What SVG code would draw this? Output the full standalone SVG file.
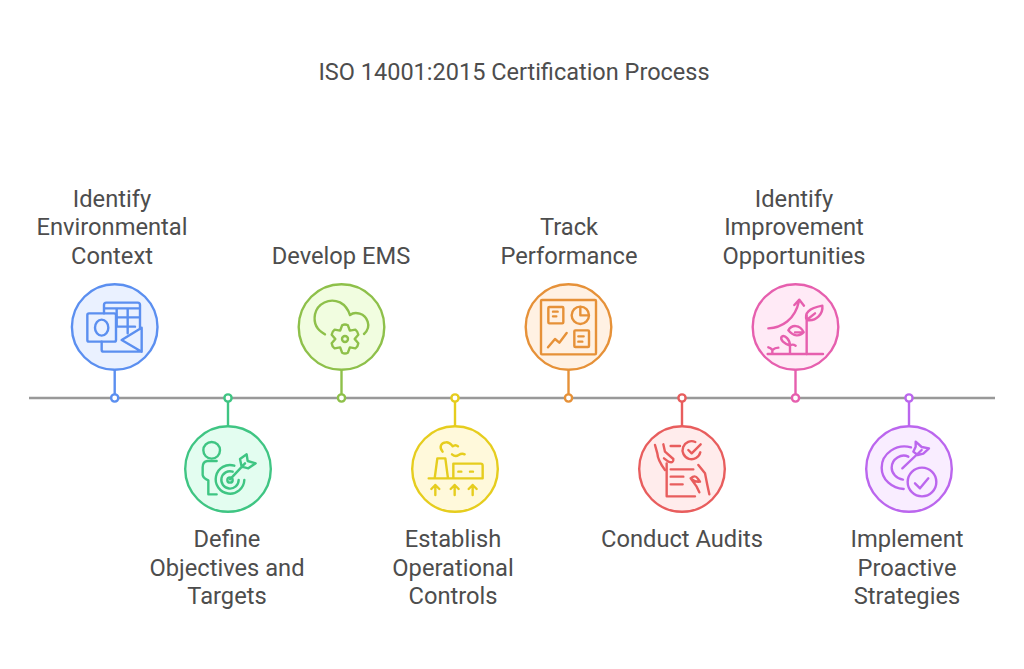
<svg xmlns="http://www.w3.org/2000/svg" width="1024" height="669" viewBox="0 0 1024 669">
<style>
text{font-family:Roboto,"Liberation Sans",sans-serif;font-size:23.7px;fill:#4d4d4d;text-anchor:middle}
.title{font-size:23.5px}
.c{stroke-width:2.4}
.i{fill:none;stroke-width:7.2;stroke-linecap:round;stroke-linejoin:round}
.d{fill:#fff;stroke-width:2.4}
.s{stroke-width:2.4}
.blue{stroke:#5b8ff0}.green{stroke:#3fc583}.lime{stroke:#8ec04a}.yellow{stroke:#e6cd1e}.orange{stroke:#e69138}.red{stroke:#e85d5d}.pink{stroke:#e65fae}.purple{stroke:#bb66ee}
</style>
<rect width="1024" height="669" fill="#fff"/>
<text class="title" x="514" y="80">ISO 14001:2015 Certification Process</text>
<g id="connectors">
<line x1="29" y1="398" x2="995" y2="398" stroke="#999" stroke-width="2.6"/>
<line class="s blue" x1="114.700" y1="370" x2="114.700" y2="398"/>
<line class="s green" x1="228" y1="398" x2="228" y2="426"/>
<line class="s lime" x1="341.500" y1="370" x2="341.500" y2="398"/>
<line class="s yellow" x1="455" y1="398" x2="455" y2="426"/>
<line class="s orange" x1="568.500" y1="370" x2="568.500" y2="398"/>
<line class="s red" x1="682" y1="398" x2="682" y2="426"/>
<line class="s pink" x1="795.500" y1="370" x2="795.500" y2="398"/>
<line class="s purple" x1="909" y1="398" x2="909" y2="426"/>
<circle class="d blue" cx="114.700" cy="398" r="3.600"/>
<circle class="d green" cx="228" cy="398" r="3.600"/>
<circle class="d lime" cx="341.500" cy="398" r="3.600"/>
<circle class="d yellow" cx="455" cy="398" r="3.600"/>
<circle class="d orange" cx="568.500" cy="398" r="3.600"/>
<circle class="d red" cx="682" cy="398" r="3.600"/>
<circle class="d pink" cx="795.500" cy="398" r="3.600"/>
<circle class="d purple" cx="909" cy="398" r="3.600"/>
</g>
<g id="n1">
<circle class="c blue" cx="114.700" cy="327" r="42.800" fill="#eaf1ff"/>
<g class="i blue" transform="translate(60 275) scale(.33333)">
<path d="M132 115V90q0-7 7-7h94q7 0 7 7v68M132 100h108M170 100v55M203 100v75M170 127h70M170 155h55"/>
<rect x="82" y="115" width="86" height="85" rx="5"/>
<ellipse cx="125" cy="158" rx="20" ry="24"/>
<path d="M125 200v24q0 6 6 6h114v-72l-60 37 60 35"/>
</g>
<text x="112" y="206.500">Identify</text><text x="112" y="235.200">Environmental</text><text x="112" y="263.500">Context</text>
</g>
<g id="n2">
<circle class="c green" cx="228" cy="469" r="42.800" fill="#e3fdf0"/>
<g class="i green" transform="translate(60 275) scale(.33333)">
<circle cx="455" cy="526" r="25"/>
<path d="M470 558H442Q428 560 428 577V600Q430 610 445 616V658H470"/>
<path d="M523 572A43 43 0 1 0 553 615"/>
<path d="M518 590A26 26 0 1 0 536 615"/>
<circle cx="510" cy="615" r="8"/>
<path d="M510 613 555 565M540 552 560 538 563 558 587 565 565 580 545 575Z"/>
</g>
<text x="227" y="546.500">Define</text><text x="227" y="575.500">Objectives and</text><text x="227" y="603.500">Targets</text>
</g>
<g id="n3">
<circle class="c lime" cx="341.500" cy="327" r="42.800" fill="#f1fde0"/>
<g class="i lime" transform="translate(290 275) scale(.33333)">
<path d="M105 178C80 165 70 145 75 118 82 85 118 68 150 82 165 90 175 105 180 120 195 108 225 115 233 140 238 155 232 168 222 177"/>
<path d="M156.300 150.900Q165 146 173.700 150.900L179.500 166.900 196.200 163.900Q204 170 204.900 179L194 192 204.900 205Q204 214 196.200 220.100L179.500 217.100 173.700 233.100Q165 238 156.300 233.100L150.500 217.100 133.800 220.100Q126 214 125.100 205L136 192 125.100 179Q126 170 133.800 163.900L150.500 166.900Z"/>
<circle cx="165" cy="192" r="9"/>
</g>
<text x="341" y="263.500">Develop EMS</text>
</g>
<g id="n4">
<circle class="c yellow" cx="455" cy="469" r="42.800" fill="#fff9db"/>
<g class="i yellow" transform="translate(290 275) scale(.33333)">
<path d="M458 530c-12-14-5-27 10-28 12-1 16 8 20 12 5-4 12-4 16 0M486 538c8 7 14 6 20 2s12-5 18-2"/>
<path d="M416 610H578V572q0-6-6-6H490M434 610 442 550H466L474 610M490 566V610M505 590h9M540 590h9"/>
<path d="M436 660V630M424 642 436 630 448 642M494 660V630M482 642 494 630 506 642M548 660V630M536 642 548 630 560 642"/>
</g>
<text x="453" y="546.500">Establish</text><text x="453" y="575.500">Operational</text><text x="453" y="603.500">Controls</text>
</g>
<g id="n5">
<circle class="c orange" cx="568.500" cy="327" r="42.800" fill="#fff1e3"/>
<g class="i orange" transform="translate(515 275) scale(.33333)">
<rect x="78" y="75" width="165" height="163" rx="3"/>
<rect x="100" y="96" width="45" height="49" rx="3"/>
<path d="M114 110h14M114 124h10"/>
<circle cx="196" cy="121" r="26"/>
<path d="M196 96v25h25"/>
<path d="M99 217 120 192 133 203 155 174"/>
<rect x="178" y="166" width="44" height="50" rx="3"/>
<path d="M190 184h16M190 200h12"/>
</g>
<text x="569" y="235.200">Track</text><text x="569" y="263.500">Performance</text>
</g>
<g id="n6">
<circle class="c red" cx="682" cy="469" r="42.800" fill="#ffecec"/>
<g class="i red" transform="translate(515 275) scale(.33333)">
<path d="M467 513H495"/>
<path d="M556 532A27 27 0 1 1 541 501"/>
<path d="M520 525 530 535 557 508"/>
<path d="M420 510 427 535Q428 555 450 585M445 508 450 530 475 552Q477 566 460 560L447 550"/>
<path d="M455 565V664H540M467 583H535M467 605H505M467 628H503"/>
<path d="M550 570 570 595 577 630 583 658M527 610Q540 598 548 610L555 620Q540 622 527 610ZM527 610 545 635 553 652"/>
</g>
<text x="682" y="546.500">Conduct Audits</text>
</g>
<g id="n7">
<circle class="c pink" cx="795.500" cy="327" r="42.800" fill="#ffeaf6"/>
<g class="i pink" transform="translate(745 275) scale(.33333)">
<path d="M70 160C110 158 150 135 162 78M148 90 163 74 177 92"/>
<path d="M68 237H234M135 237V210M135 212C118 205 104 195 110 185 120 178 135 195 135 212ZM135 212C140 208 146 208 152 212M82 237V225M82 225C78 220 74 218 70 217M82 225C88 220 94 218 100 218"/>
<path d="M185 237V120M185 135C178 115 190 100 232 92 235 115 215 140 185 135ZM185 135 210 115M176 172C165 185 145 185 130 166 140 148 165 148 176 172ZM176 172H150"/>
</g>
<text x="794" y="206.500">Identify</text><text x="794" y="235.200">Improvement</text><text x="794" y="263.500">Opportunities</text>
</g>
<g id="n8">
<circle class="c purple" cx="909" cy="469" r="42.800" fill="#f9edff"/>
<g class="i purple" transform="translate(745 275) scale(.33333)">
<path d="M498 517C455 505 410 535 410 578 410 615 442 640 476 642"/>
<path d="M490 545C470 535 440 550 440 578 440 595 455 612 474 614"/>
<path d="M472 580 530 525M505 530 512 515 512 500 530 516 552 520 535 536 518 540z"/>
<circle cx="531" cy="621" r="43"/>
<path d="M510 625 525 640 550 610"/>
</g>
<text x="907" y="546.500">Implement</text><text x="907" y="575.500">Proactive</text><text x="907" y="603.500">Strategies</text>
</g>
</svg>
